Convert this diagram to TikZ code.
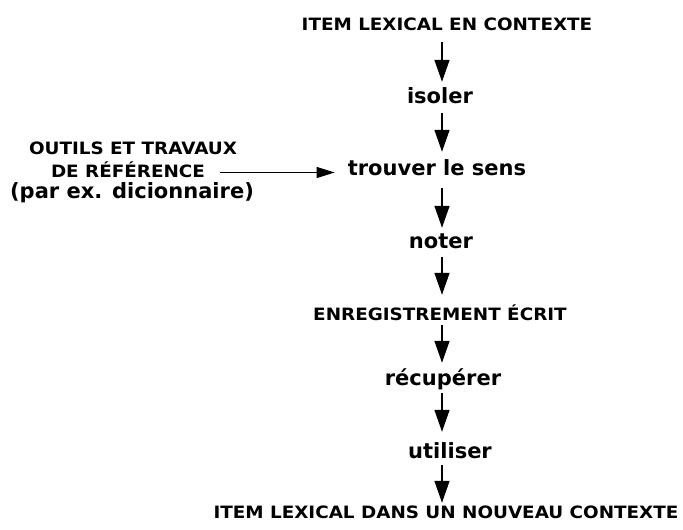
\documentclass[tikz,border=0pt]{standalone}
\usepackage{fontspec}
\newfontfamily\capfont{DejaVu Sans}[FakeStretch=1.08]
\newfontfamily\lowfont{DejaVu Sans}
\usetikzlibrary{arrows.meta}
\begin{document}
\begin{tikzpicture}[x=1pt,y=-1pt,
  lbl/.style={inner sep=0pt, anchor=base, text height=12pt, text depth=3pt},
  caps/.style={lbl, font=\capfont\bfseries\fontsize{17}{19}\selectfont},
  verb/.style={lbl, font=\lowfont\bfseries\fontsize{21}{24}\selectfont},
  varr/.style={line width=1.4pt, -{Triangle[width=15pt,length=22pt]}},
  harr/.style={line width=1.2pt, -{Triangle[width=11pt,length=18pt]}}]
\useasboundingbox (0,0) rectangle (683,530);
\coordinate (col) at (442,0);
\node[caps] (t1) at (447,30) {ITEM LEXICAL EN CONTEXTE};
\node[verb] (iso) at (440,103) {isoler};
\node[verb] (tr) at (437,175) {trouver le sens};
\node[verb] (no) at (441,248) {noter};
\node[caps] (en) at (440,320) {ENREGISTREMENT ÉCRIT};
\node[verb] (re) at (443,385) {récupérer};
\node[verb] (ut) at (450,458) {utiliser};
\node[caps] (t2) at (446,518) {ITEM LEXICAL DANS UN NOUVEAU CONTEXTE};
\node[caps] (o1) at (133,154) {OUTILS ET TRAVAUX};
\node[caps] (o2) at (128,177) {DE RÉFÉRENCE};
\node[verb] (o3) at (132,198) {(par ex. dicionnaire)};
\draw[varr, shorten <=9pt, shorten >=9pt] (t1.south -| col) -- (iso.north -| col);
\draw[varr, shorten <=7pt, shorten >=11pt] (iso.south -| col) -- (tr.north -| col);
\draw[varr, shorten <=10pt, shorten >=8pt] (tr.south -| col) -- (no.north -| col);
\draw[varr, shorten <=6pt, shorten >=13pt] (no.south -| col) -- (en.north -| col);
\draw[varr, shorten <=2pt, shorten >=10pt] (en.south -| col) -- (re.north -| col);
\draw[varr, shorten <=5pt, shorten >=14pt] (re.south -| col) -- (ut.north -| col);
\draw[varr, shorten <=4pt, shorten >=3pt] (ut.south -| col) -- (t2.north -| col);
\draw[harr, shorten <=15pt, shorten >=13pt] (o2.east) -- (o2.east -| tr.west);
\end{tikzpicture}
\end{document}
